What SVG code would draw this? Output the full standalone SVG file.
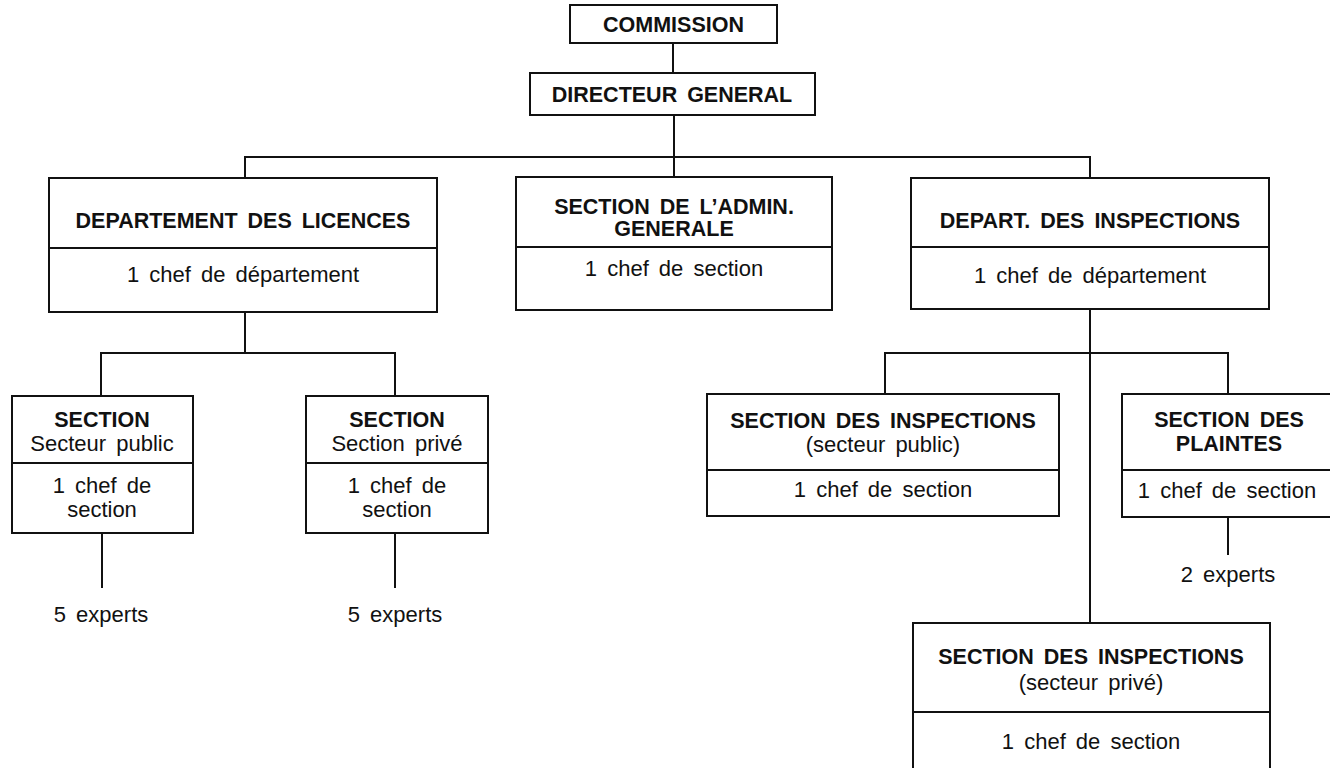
<svg xmlns="http://www.w3.org/2000/svg" width="1330" height="768" viewBox="0 0 1330 768">
<style>
.box{fill:#fff;stroke:#111;stroke-width:2}
.div{stroke:#111;stroke-width:2}
.con{fill:none;stroke:#111;stroke-width:2}
text{font-family:"Liberation Sans",Arial,sans-serif;fill:#111;text-anchor:middle;word-spacing:4px}
.b{font-weight:bold;font-size:21.5px}
.r{font-size:22px}
</style>
<rect width="1330" height="768" fill="#fff"/>
<g id="connectors">
<path class="con" d="M673 43V73"/>
<path class="con" d="M674 115V157"/>
<path class="con" d="M245 178V157H1090V178"/>
<path class="con" d="M674 157V177"/>
<path class="con" d="M245 312V353"/>
<path class="con" d="M101 396V353H395V396"/>
<path class="con" d="M102 533V588"/>
<path class="con" d="M395 533V588"/>
<path class="con" d="M1090 309V623"/>
<path class="con" d="M885 394V353H1228V394"/>
<path class="con" d="M1228 517V555"/>
</g>
<g id="commission">
<rect class="box" x="570" y="5" width="207" height="38"/>
<text class="b" x="673.5" y="32">COMMISSION</text>
</g>
<g id="directeur">
<rect class="box" x="530" y="73" width="285" height="42"/>
<text class="b" x="672" y="102">DIRECTEUR GENERAL</text>
</g>
<g id="dept-licences">
<rect class="box" x="49" y="178" width="388" height="134"/>
<line class="div" x1="49" y1="248" x2="437" y2="248"/>
<text class="b" x="243" y="228">DEPARTEMENT DES LICENCES</text>
<text class="r" x="243" y="282">1 chef de département</text>
</g>
<g id="admin">
<rect class="box" x="516" y="177" width="316" height="133"/>
<line class="div" x1="516" y1="247" x2="832" y2="247"/>
<text class="b" x="674" y="214">SECTION DE L’ADMIN.</text>
<text class="b" x="674" y="236">GENERALE</text>
<text class="r" x="674" y="276">1 chef de section</text>
</g>
<g id="dept-inspections">
<rect class="box" x="911" y="178" width="358" height="131"/>
<line class="div" x1="911" y1="247" x2="1269" y2="247"/>
<text class="b" x="1090" y="228">DEPART. DES INSPECTIONS</text>
<text class="r" x="1090" y="283">1 chef de département</text>
</g>
<g id="section-public">
<rect class="box" x="12" y="396" width="181" height="137"/>
<line class="div" x1="12" y1="463" x2="193" y2="463"/>
<text class="b" x="102" y="427">SECTION</text>
<text class="r" x="102" y="451">Secteur public</text>
<text class="r" x="102" y="493">1 chef de</text>
<text class="r" x="102" y="517">section</text>
</g>
<text class="r" x="101" y="622">5 experts</text>
<g id="section-prive">
<rect class="box" x="306" y="396" width="182" height="137"/>
<line class="div" x1="306" y1="463" x2="488" y2="463"/>
<text class="b" x="397" y="427">SECTION</text>
<text class="r" x="397" y="451">Section privé</text>
<text class="r" x="397" y="493">1 chef de</text>
<text class="r" x="397" y="517">section</text>
</g>
<text class="r" x="395" y="622">5 experts</text>
<g id="insp-public">
<rect class="box" x="707" y="394" width="352" height="122"/>
<line class="div" x1="707" y1="470" x2="1059" y2="470"/>
<text class="b" x="883" y="428">SECTION DES INSPECTIONS</text>
<text class="r" x="883" y="452">(secteur public)</text>
<text class="r" x="883" y="497">1 chef de section</text>
</g>
<g id="plaintes">
<rect class="box" x="1122" y="394" width="215" height="123"/>
<line class="div" x1="1122" y1="470" x2="1337" y2="470"/>
<text class="b" x="1229" y="427">SECTION DES</text>
<text class="b" x="1229" y="451">PLAINTES</text>
<text class="r" x="1227" y="498">1 chef de section</text>
</g>
<text class="r" x="1228" y="582">2 experts</text>
<g id="insp-prive">
<rect class="box" x="913" y="623" width="357" height="160"/>
<line class="div" x1="913" y1="712" x2="1270" y2="712"/>
<text class="b" x="1091" y="664">SECTION DES INSPECTIONS</text>
<text class="r" x="1091" y="690">(secteur privé)</text>
<text class="r" x="1091" y="749">1 chef de section</text>
</g>
</svg>
